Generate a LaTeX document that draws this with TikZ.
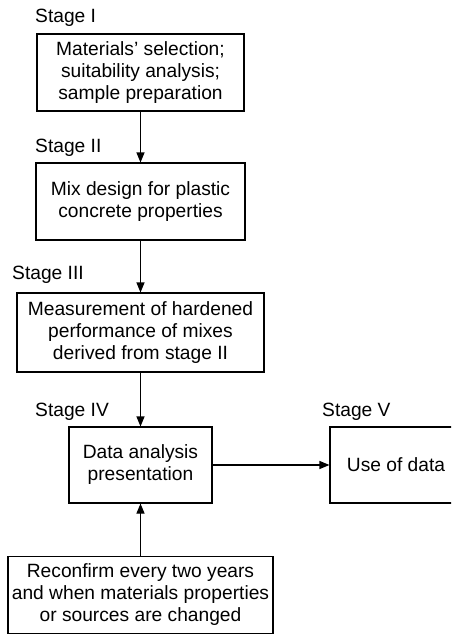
\documentclass[tikz,border=0pt]{standalone}
\usepackage{fontspec}
\setmainfont{Liberation Sans}
\usetikzlibrary{arrows.meta}
\begin{document}
\begin{tikzpicture}[x=1pt,y=-1pt,
  box/.style={draw,line width=1.1pt,align=center,inner sep=0pt,
    font=\fontsize{19.2}{22}\selectfont},
  lbl/.style={anchor=base west,inner sep=0pt,font=\fontsize{19.2}{22}\selectfont},
  conn/.style={line width=1.1pt,-{Triangle[length=10pt,width=8pt]}}]
\useasboundingbox (0,0) rectangle (451,635);
\clip (0,0) rectangle (451,635);
\node[box,minimum width=207pt,minimum height=77pt] (b1) at (140.5,72.5)
  {Materials' selection;\\suitability analysis;\\sample preparation};
\node[box,minimum width=209pt,minimum height=77pt] (b2) at (140.5,201.5)
  {Mix design for plastic\\concrete properties};
\node[box,minimum width=247pt,minimum height=79pt] (b3) at (140.5,332.5)
  {Measurement of hardened\\performance of mixes\\derived from stage II};
\node[box,minimum width=143pt,minimum height=76pt] (b4) at (140.5,465)
  {Data analysis\\presentation};
\node[box,minimum width=132pt,minimum height=76pt] (b5) at (396,465)
  {Use of data};
\node[box,minimum width=265pt,minimum height=77pt] (b6) at (140.5,595)
  {Reconfirm every two years\\and when materials properties\\or sources are changed};
\node[lbl] (l1) at (35,22) {Stage I};
\node[lbl] (l2) at (35,152) {Stage II};
\node[lbl] (l3) at (12,279) {Stage III};
\node[lbl] (l4) at (35,416) {Stage IV};
\node[lbl] (l5) at (322,416) {Stage V};
\draw[conn] (b1) -- (b2);
\draw[conn] (b2) -- (b3);
\draw[conn] (b3) -- (b4);
\draw[conn] (b4) -- (b5);
\draw[conn] (b6) -- (b4);
\end{tikzpicture}
\end{document}
